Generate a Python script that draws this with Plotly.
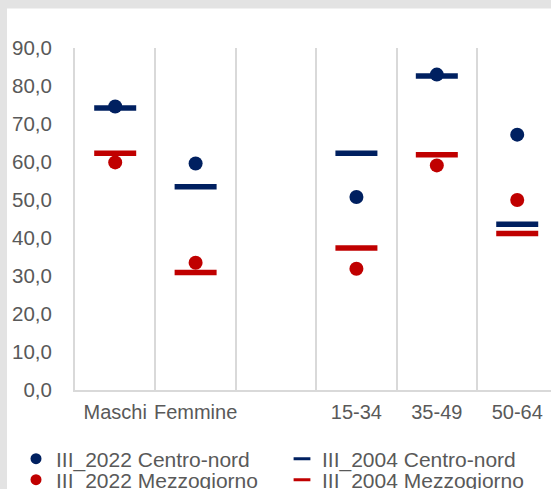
import plotly.graph_objects as go

categories = ["Maschi", "Femmine", " ", "15-34", "35-49", "50-64"]
cn_2022 = [74.6, 59.6, None, 50.8, 83.0, 67.2]
mz_2022 = [59.9, 33.5, None, 31.9, 59.1, 50.0]
cn_2004 = [74.2, 53.5, None, 62.3, 82.6, 43.6]
mz_2004 = [62.3, 30.9, None, 37.4, 61.9, 41.2]

names = {
    "cn22": "III_2022 Centro-nord",
    "mz22": "III_2022 Mezzogiorno",
    "cn04": "III_2004 Centro-nord",
    "mz04": "III_2004 Mezzogiorno",
}
BLUE = "#002060"
RED = "#C00000"
GRAY_TXT = "#595959"
GRID = "#d9d9d9"
FONT = "Liberation Sans, Arial, sans-serif"

fig = go.Figure()

# dashes (2004) first, dots (2022) on top
for vals, col, key in [(cn_2004, BLUE, "cn04"), (mz_2004, RED, "mz04")]:
    fig.add_trace(go.Scatter(
        x=categories, y=vals, mode="markers", name=names[key], showlegend=False,
        marker=dict(symbol="line-ew", size=30, color=col,
                    line=dict(color=col, width=5.5)),
    ))
for vals, col, key in [(cn_2022, BLUE, "cn22"), (mz_2022, RED, "mz22")]:
    fig.add_trace(go.Scatter(
        x=categories, y=vals, mode="markers", name=names[key], showlegend=False,
        marker=dict(symbol="circle", size=14, color=col),
    ))

W, H = 551, 489

# legend entries: each in its own legend box (2 rows x 2 columns)
legend_items = [
    ("cn22", "circle", BLUE, "legend", 16, 459),
    ("cn04", "line-ew", BLUE, "legend2", 282, 459),
    ("mz22", "circle", RED, "legend3", 16, 480),
    ("mz04", "line-ew", RED, "legend4", 282, 480),
]
for key, sym, col, lg, lx, ly in legend_items:
    if sym == "circle":
        mk = dict(symbol="circle", size=11, color=col)
    else:
        mk = dict(symbol="line-ew", size=12, color=col, line=dict(color=col, width=3))
    fig.add_trace(go.Scatter(x=[None], y=[None], mode="markers", name=names[key],
                             marker=mk, legend=lg, showlegend=True))

ml, mt = 75, 48
plot_h = H - mt
axis_px = 390
dom_bottom = (H - axis_px) / plot_h
plot_w = W - ml


def px_to_paper_x(p):
    return (p - ml) / plot_w


def px_to_paper_y(p):
    return (H - p) / plot_h


def legend_cfg(lx, ly):
    return dict(
        orientation="h", xref="container", yref="container",
        xanchor="left", yanchor="middle", x=lx / W, y=(H - ly) / H,
        font=dict(family=FONT, size=21, color=GRAY_TXT),
        bgcolor="rgba(0,0,0,0)", borderwidth=0,
        itemclick=False, itemdoubleclick=False,
    )


lay = dict(
    width=W, height=H,
    margin=dict(l=ml, r=0, t=mt, b=0, pad=0, autoexpand=False),
    paper_bgcolor="white", plot_bgcolor="white",
    separators=",.",
    font=dict(family=FONT, size=20, color=GRAY_TXT),
    xaxis=dict(
        type="category", categoryorder="array", categoryarray=categories,
        range=[-0.5, 5.42], tickson="boundaries",
        showgrid=True, gridcolor=GRID, gridwidth=2,
        showline=True, linecolor=GRID, linewidth=2,
        ticks="", ticklabelstandoff=3, tickangle=0, automargin=False,
        tickfont=dict(family=FONT, size=20, color=GRAY_TXT),
        zeroline=False, fixedrange=True,
    ),
    yaxis=dict(
        domain=[dom_bottom, 1], range=[0, 90],
        tickvals=[0, 10, 20, 30, 40, 50, 60, 70, 80, 90], tickformat=".1f",
        showgrid=False, zeroline=False,
        showline=True, linecolor=GRID, linewidth=2,
        ticks="", ticklabelstandoff=17, automargin=False,
        tickfont=dict(family=FONT, size=20.5, color=GRAY_TXT),
        fixedrange=True,
    ),
    shapes=[
        dict(type="rect", xref="paper", yref="paper", layer="below",
             x0=px_to_paper_x(-5), x1=px_to_paper_x(W + 5),
             y0=px_to_paper_y(-5), y1=px_to_paper_y(8.5),
             fillcolor="#e3e3e3", line=dict(width=0)),
        dict(type="rect", xref="paper", yref="paper", layer="below",
             x0=px_to_paper_x(-5), x1=px_to_paper_x(7),
             y0=px_to_paper_y(H + 5), y1=px_to_paper_y(-5),
             fillcolor="#e3e3e3", line=dict(width=0)),
    ],
    showlegend=True,
)
for key, sym, col, lg, lx, ly in legend_items:
    lay[lg] = legend_cfg(lx, ly)

fig.update_layout(**lay)

fig.write_html(
    "out.html",
    config={"displayModeBar": False, "responsive": False},
    post_script="document.body.style.margin='0px';document.body.style.overflow='hidden';",
)
